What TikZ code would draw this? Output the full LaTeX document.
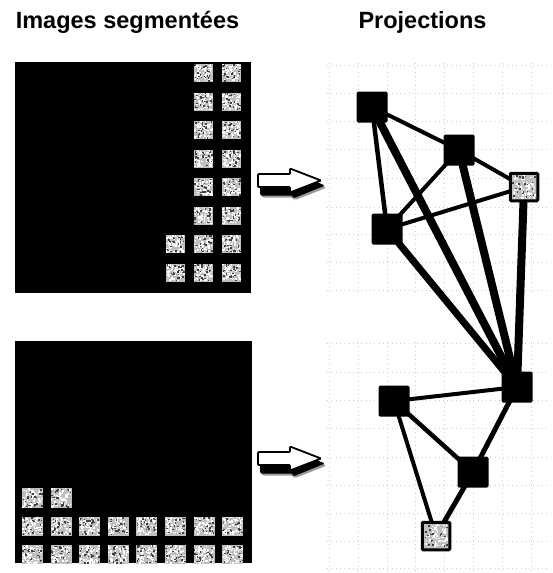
\documentclass[tikz,border=0pt]{standalone}
\usepackage{fontspec}
\setmainfont{Liberation Sans}
\usetikzlibrary{backgrounds}

% random speckle texture inside a box: x y w h
\newcommand\specks[4]{%
  \foreach \k in {1,...,70}{%
    \pgfmathsetmacro\sx{#1+rnd*(#3-1.5)}%
    \pgfmathsetmacro\sy{#2+rnd*(#4-1.5)}%
    \fill[white] (\sx,\sy) rectangle ++(1.5,1.5);}%
  \foreach \k in {1,...,22}{%
    \pgfmathsetmacro\sx{#1+rnd*(#3-1.5)}%
    \pgfmathsetmacro\sy{#2+rnd*(#4-1.5)}%
    \fill[black!75] (\sx,\sy) rectangle ++(1.5,1.5);}%
}
% one textured tile of a segmented image: x y w h
\newcommand\segtile[4]{%
  \pgfmathsetmacro\tx{#1}\pgfmathsetmacro\ty{#2}%
  \fill[gray!50] (\tx,\ty) rectangle ++(#3,#4);
  \specks{\tx}{\ty}{#3}{#4}%
}

\tikzset{
  heading/.style={font=\fontsize{23.5}{27}\selectfont\bfseries, anchor=base, inner sep=0pt},
  blk/.style={fill=black, minimum size=31pt, inner sep=0pt, rounded corners=1.5pt},
  txtnode/.style={fill=gray!50, draw=black, line width=3pt, minimum size=27.5pt, inner sep=0pt, rounded corners=1pt},
  wire/.style={line width=#1pt, line cap=round, black},
  gridline/.style={gray!40, line width=0.5pt, dash pattern=on 0.8pt off 3.5pt},
  pics/blockarrow/.style={code={
    % soft drop shadow under the hollow arrow
    \fill[black!40, rounded corners=3pt] (3,-2) -- (36,-2) -- (36,-7) -- (69,7) -- (36,20) -- (36,17) -- (3,17) -- cycle;
    \fill[black, rounded corners=2pt] (2,-3.5) -- (35,-3.5) -- (35,-8.5) -- (67,5) -- (35,18) -- (35,15) -- (2,15) -- cycle;
    \filldraw[fill=white, draw=black, line width=1.8pt, rounded corners=1pt]
      (0,-6.5) -- (32,-6.5) -- (32,-12) -- (63,0) -- (32,12) -- (32,6.5) -- (0,6.5) -- cycle;
  }}
}

\begin{document}
\begin{tikzpicture}[x=1pt, y=-1pt]
\useasboundingbox (0,0) rectangle (553,573);
\pgfmathsetseed{11}

% headings
\node[heading] (h1) at (127.5,28) {Images segmentées};
\node[heading] (h2) at (422.5,28) {Projections};

% segmented image, top
\fill[black] (15,62) rectangle (251,293);
\foreach \j in {0,...,7}{
  \foreach \i in {6,7}{\segtile{166+28*(\i-5)}{64+28.5*\j}{19}{18}}
}
\foreach \j in {6,7}{\segtile{166}{64+28.5*\j}{19}{18}}

% segmented image, bottom
\fill[black] (15,341) rectangle (252,563);
\foreach \i in {0,1}{\segtile{22+28.6*\i}{488}{21}{20}}
\foreach \j in {1,2}{
  \foreach \i in {0,...,7}{\segtile{22+28.6*\i}{488+28.5*\j}{21}{19}}
}

% projection arrows
\pic at (258,180.5) {blockarrow};
\pic at (258,458.5) {blockarrow};

% graph nodes
\node[blk] (A) at (372,107) {};
\node[blk] (B) at (459,150) {};
\node[txtnode] (C) at (524,187) {};
\node[blk] (D) at (387,229) {};
\node[blk] (E) at (517,387) {};
\node[blk] (F) at (394,401) {};
\node[blk] (G) at (473,472) {};
\node[txtnode] (H) at (436,536) {};
\specks{512}{175}{24}{24}
\specks{424}{524}{24}{24}

\begin{scope}[on background layer]
  % dotted reference grids
  \foreach \y in {65,93,121,149,178,207,234,262,290}{\draw[gridline] (327,\y) -- (547,\y);}
  \foreach \x in {329,358,387,415,444,473,502,531}{\draw[gridline] (\x,63) -- (\x,293);}
  \foreach \y in {343,372,400,428,457,485,513,541,568}{\draw[gridline] (327,\y) -- (547,\y);}
  \foreach \x in {329,358,387,415,444,473,502,531}{\draw[gridline] (\x,342) -- (\x,571);}
  % links of the upper graph
  \draw[wire=4] (A.center) -- (B.center);
  \draw[wire=4.5] (A.center) -- (D.center);
  \draw[wire=4] (B.center) -- (C.center);
  \draw[wire=4] (B.center) -- (D.center);
  \draw[wire=4] (C.center) -- (D.center);
  \draw[wire=8] (A.center) -- (E.center);
  \draw[wire=8] (B.center) -- (E.center);
  \draw[wire=8] (C.center) -- (E.center);
  \draw[wire=7] (D.center) -- (E.center);
  % links of the lower graph
  \draw[wire=4] (E.center) -- (F.center);
  \draw[wire=5] (E.center) -- (G.center);
  \draw[wire=4.5] (F.center) -- (G.center);
  \draw[wire=4] (F.center) -- (H.center);
  \draw[wire=5] (G.center) -- (H.center);
\end{scope}
\end{tikzpicture}
\end{document}
